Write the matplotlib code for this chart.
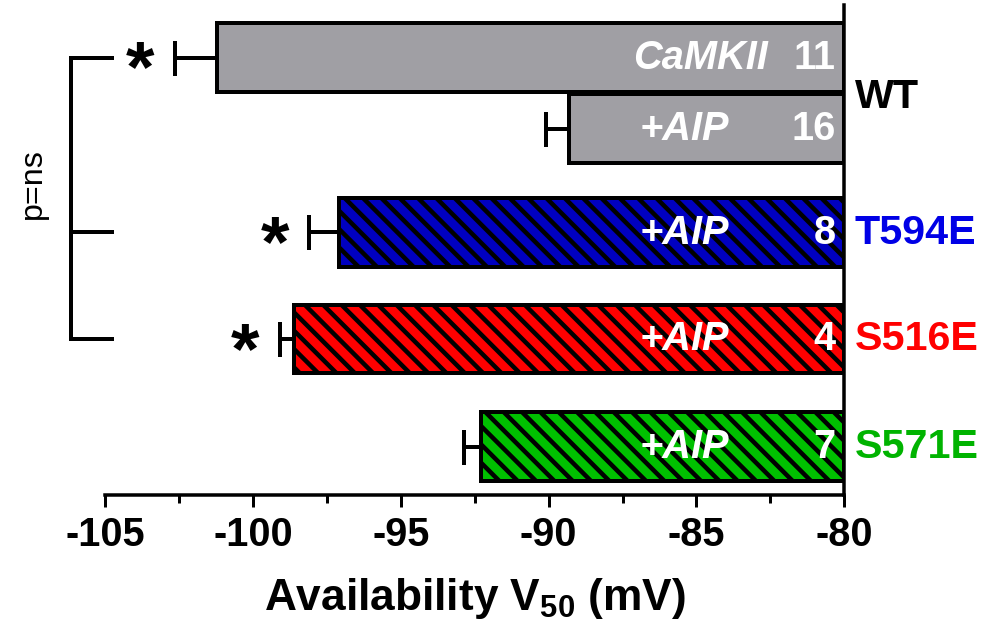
import numpy as np
import matplotlib
matplotlib.use('Agg')
import matplotlib.pyplot as plt

DPI = 110
PT = 72 / DPI  # pixels -> points

# data
conds = ['CaMKII', '+AIP', '+AIP', '+AIP', '+AIP']
n_cells = [11, 16, 8, 4, 7]
means = [-101.2, -89.3, -97.1, -98.6, -92.3]
sems = [1.45, 0.8, 1.0, 0.5, 0.55]
signif = [True, False, True, True, False]
bar_colors = ['#a09fa4', '#a09fa4', '#0000c0', '#ff0000', '#00c000']
hatches = ['', '', '\\\\', '\\\\', '\\\\']
side_labels = ['WT', 'T594E', 'S516E', 'S571E']
side_colors = ['black', '#0000e6', '#ff0000', '#00b300']
xticks = [-105, -100, -95, -90, -85, -80]

# layout
ypos = [0, 1, 2.46, 3.96, 5.48]
side_pos = [0.55, 2.46, 3.96, 5.48]

plt.rcParams['font.family'] = ['Liberation Sans', 'DejaVu Sans']
plt.rcParams['font.weight'] = 'bold'
plt.rcParams['mathtext.fontset'] = 'custom'
plt.rcParams['mathtext.rm'] = 'Liberation Sans:bold'
plt.rcParams['mathtext.bf'] = 'Liberation Sans:bold'
plt.rcParams['hatch.linewidth'] = 4.5 * PT
plt.rcParams['hatch.color'] = 'black'

fig = plt.figure(figsize=(982.4 / DPI, 627.4 / DPI), dpi=DPI)
ax = fig.add_axes([105 / 982, 132 / 627, 739 / 982, 490 / 627])

ax.errorbar(means, ypos, xerr=[sems, np.zeros(len(sems))], fmt='none',
            ecolor='black', elinewidth=4 * PT, capsize=17.5 * PT,
            capthick=4 * PT, zorder=1)
for y, m, c, h in zip(ypos, means, bar_colors, hatches):
    ax.barh(y, m + 80, left=-80, height=0.97, color=c, edgecolor='black',
            linewidth=4 * PT, hatch=h, zorder=2)

# labels inside bars
for y, cond, n in zip(ypos, conds, n_cells):
    ax.text(-80.3, y, str(n), color='white', fontsize=26, ha='right',
            va='center', zorder=3)
    if cond == 'CaMKII':
        ax.text(-82.6, y, cond, color='white', fontsize=26, style='italic',
                ha='right', va='center', zorder=3)
    else:
        ax.text(-85.4, y, cond, color='white', fontsize=26, style='italic',
                ha='center', va='center', zorder=3)

# asterisks
for y, m, s, sig in zip(ypos, means, sems, signif):
    if sig:
        ax.text(m - s - 1.15, y + 0.2, '*', fontsize=48, ha='center',
                va='center', clip_on=False)

# right side labels
for y, lab, c in zip(side_pos, side_labels, side_colors):
    ax.text(-79.65, y, lab, color=c, fontsize=27, ha='left', va='center',
            clip_on=False)

# bracket p=ns
bx0, bx1 = -106.15, -104.76
ax.plot([bx1, bx0, bx0, bx1], [ypos[0], ypos[0], ypos[3], ypos[3]],
        color='black', lw=4 * PT, clip_on=False, solid_joinstyle='miter')
ax.plot([bx0, bx1], [ypos[2], ypos[2]], color='black', lw=4 * PT, clip_on=False)
ax.text(-107.45, 1.77, 'p=ns', rotation=90, fontsize=21, fontweight='normal',
        ha='center', va='center', clip_on=False)

ax.set_xlim(-105, -80)
ax.set_ylim(6.155, -0.746)
ax.set_xticks(xticks)
ax.set_xticks(np.arange(-102.5, -80, 5), minor=True)
ax.set_xticklabels([str(t) for t in xticks], fontsize=26)
ax.set_yticks([])
ax.tick_params(axis='x', which='major', length=12 * PT, width=3 * PT, pad=6)
ax.tick_params(axis='x', which='minor', length=8 * PT, width=3 * PT)
ax.spines['top'].set_visible(False)
ax.spines['left'].set_visible(False)
ax.spines['bottom'].set_linewidth(3.5 * PT)
ax.spines['right'].set_linewidth(3.5 * PT)
ax.set_xlabel(r'Availability V$_{50}$ (mV)', fontsize=29, fontweight='bold',
              labelpad=14)

fig.savefig('out.png', dpi=DPI)
